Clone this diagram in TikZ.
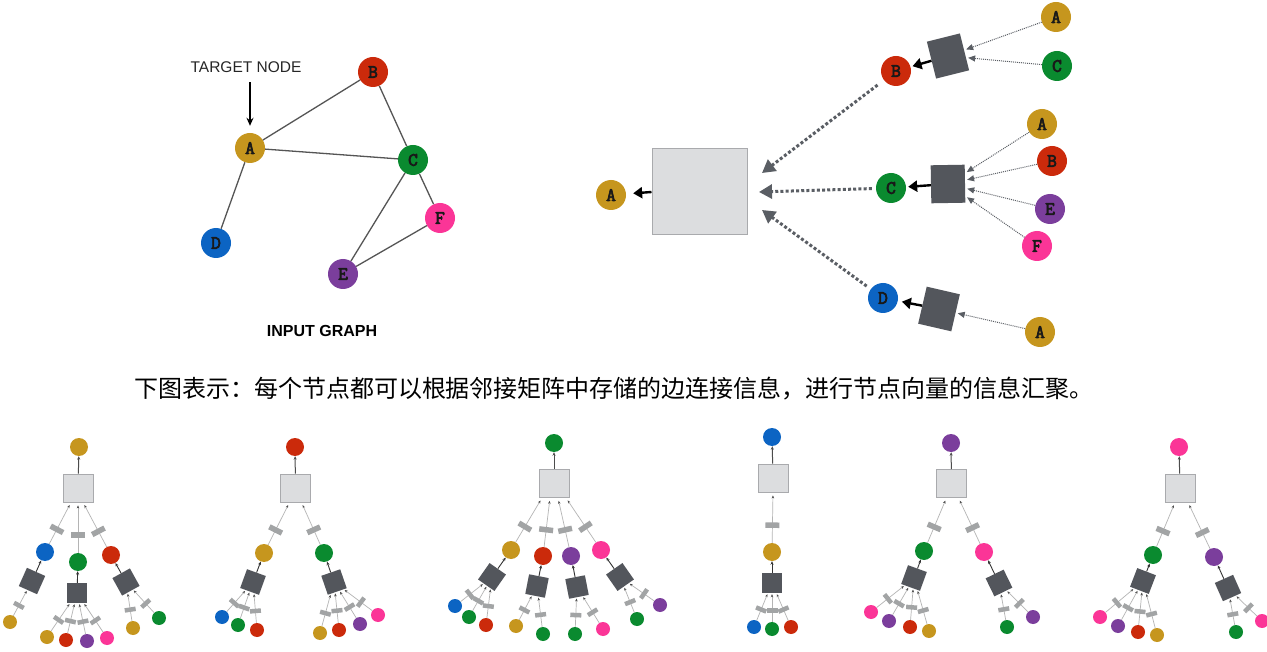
\documentclass[tikz,border=0pt]{standalone}
\usepackage{fontspec}
\setmainfont{Liberation Sans}
\newfontfamily\cjk{Noto Sans CJK SC}
\newfontfamily\cmono[RawFeature={embolden=3.5}]{Latin Modern Mono}
\usetikzlibrary{arrows.meta,calc}
\definecolor{cgold}{HTML}{C6961E}
\definecolor{cred}{HTML}{CB2A0B}
\definecolor{cgreen}{HTML}{0A8A2F}
\definecolor{cblue}{HTML}{0C64C3}
\definecolor{cpink}{HTML}{FB3597}
\definecolor{cpurple}{HTML}{7B3E9C}
\definecolor{lbfill}{HTML}{DCDDDF}
\definecolor{lbdraw}{HTML}{A9AAAD}
\definecolor{dsqc}{HTML}{53565C}
\definecolor{rectc}{HTML}{A2A4A5}
\definecolor{edgec}{HTML}{555555}
\definecolor{thinc}{HTML}{B4B4B4}
\definecolor{dotc}{HTML}{5A5E64}
\tikzset{
 lab/.style={circle,inner sep=0pt,minimum size=30pt,font=\cmono\fontsize{19}{19}\selectfont,text=black!90},
 gedge/.style={draw=edgec,line width=1.3pt},
 rc/.style={circle,inner sep=0pt,minimum size=18pt},
 cc/.style={circle,inner sep=0pt,minimum size=18pt},
 gc/.style={circle,inner sep=0pt,minimum size=14pt},
 lbox/.style={rectangle,fill=lbfill,draw=lbdraw,line width=0.8pt,minimum width=30pt,minimum height=28pt,inner sep=0pt},
 dsq/.style={rectangle,fill=dsqc,minimum size=20pt,inner sep=0pt},
 bsq/.style={rectangle,fill=dsqc,minimum width=34pt,minimum height=38pt,inner sep=0pt},
 erect/.style={rectangle,fill=rectc,sloped,minimum width=5.5pt,minimum height=14pt,inner sep=0pt},
 erects/.style={rectangle,fill=rectc,sloped,minimum width=4.5pt,minimum height=11pt,inner sep=0pt},
 thinedge/.style={draw=thinc,line width=0.7pt,-{Stealth[length=3pt,width=2.5pt,color=black!70]},shorten >=1pt},
 darkedge/.style={draw=black!80,line width=0.9pt,-{Stealth[length=3.5pt,width=3pt]}},
 rootedge/.style={draw=black!70,line width=1pt,-{Stealth[length=3.5pt,width=3pt]}},
 dotthin/.style={draw=dotc,line width=1pt,dash pattern=on 1pt off 1pt,-{Triangle[length=7pt,width=6pt]},shorten >=2pt},
 dotbig/.style={draw=dotc,line width=3pt,dash pattern=on 3pt off 2.2pt,-{Triangle[length=13pt,width=14pt]}},
 blk/.style={draw=black,line width=2.4pt,-{Triangle[length=9pt,width=11pt]}},
}
\newcommand\RT[4]{%
 \node[rc,fill=#3] (#1r) at (#2) {};
 \node[lbox] (#1b) at (#4) {};
 \draw[rootedge] (#1b) -- (#1r);}
\newcommand\CH[8]{%
 \node[cc,fill=#3] (#1) at (#2) {};
 \node[dsq,rotate=#8] (#6) at (#7) {};
 \draw[thinedge,shorten >=3pt] (#1) -- ($(#4.south)+(#5,0)$) node[erect,pos=0.35] (#1e) {};
 \draw[darkedge] (#6) -- (#1);}
\newcommand\GC[4]{%
 \node[gc,fill=#3] (#1) at (#2) {};
 \draw[thinedge] (#1) -- (#4) node[erects,pos=0.4] (#1e) {};}
\begin{document}
\begin{tikzpicture}[x=1pt,y=-1pt]
\fill[white] (0,0) rectangle (1267,652);
\useasboundingbox (0,0) rectangle (1267,652);
% ---------- input graph ----------
\node[lab,fill=cgold] (A) at (250,148) {A};
\node[lab,fill=cred] (B) at (373,72) {B};
\node[lab,fill=cgreen] (C) at (413,160) {C};
\node[lab,fill=cblue] (D) at (216,243) {D};
\node[lab,fill=cpurple] (E) at (343,274) {E};
\node[lab,fill=cpink] (F) at (440,218) {F};
\draw[gedge] (A)--(B) (A)--(C) (A)--(D) (B)--(C) (C)--(E) (C)--(F) (E)--(F);
\node[font=\fontsize{15.5}{16}\selectfont,text=black!85] (tl) at (246,67) {TARGET NODE};
\draw[line width=1.3pt,-{Stealth[length=8pt,width=7pt]},shorten <=6pt,shorten >=7pt] (A.north |- tl.south) -- (A.north);
\node[font=\bfseries\fontsize{16}{16}\selectfont] (ig) at (322,331) {INPUT GRAPH};
% ---------- aggregation ----------
\node[lab,fill=cgold] (RA) at (611,195) {A};
\node[draw=lbdraw,fill=lbfill,line width=1pt,minimum width=95pt,minimum height=86pt,inner sep=0pt] (BB) at (699.5,192) {};
\node[lab,fill=cred] (RB) at (896,71) {B};
\node[lab,fill=cgreen] (RC) at (891,188) {C};
\node[lab,fill=cblue] (RD) at (883,298) {D};
\node[bsq,rotate=14] (SB) at (948,56) {};
\node[bsq,rotate=1] (SC) at (948,184) {};
\node[bsq,rotate=-13] (SD) at (939,309) {};
\node[lab,fill=cgold] (NB1) at (1056,17) {A};
\node[lab,fill=cgreen] (NB2) at (1057,66) {C};
\node[lab,fill=cgold] (NC1) at (1042,124) {A};
\node[lab,fill=cred] (NC2) at (1052,161) {B};
\node[lab,fill=cpurple] (NC3) at (1050,209) {E};
\node[lab,fill=cpink] (NC4) at (1037,246) {F};
\node[lab,fill=cgold] (ND1) at (1040,332) {A};
\draw[dotthin] (NB1) -- (SB);
\draw[dotthin] (NB2) -- (SB);
\draw[dotthin] (NC1) -- (SC);
\draw[dotthin] (NC2) -- (SC);
\draw[dotthin] (NC3) -- (SC);
\draw[dotthin] (NC4) -- (SC);
\draw[dotthin] (ND1) -- (SD);
\draw[blk,shorten >=2pt] (SB) -- (RB);
\draw[blk,shorten >=2pt] (SC) -- (RC);
\draw[blk,shorten >=4pt] (SD) -- (RD);
\coordinate (tB) at (762,173);
\coordinate (tC) at (759,192);
\coordinate (tD) at (762,210);
\draw[dotbig,shorten <=8pt] (RB) -- (tB);
\draw[dotbig,shorten <=4pt] (RC) -- (tC);
\draw[dotbig,shorten <=5pt] (RD) -- (tD);
\draw[blk,shorten >=7pt] (BB.west) -- (RA);
% ---------- caption ----------
\node[font=\cjk\fontsize{24}{24}\selectfont] (cap) at (614,389) {下图表示：每个节点都可以根据邻接矩阵中存储的边连接信息，进行节点向量的信息汇聚。};
% ---------- tree 1 ----------
\RT{ta}{79,447}{cgold}{78,488}
\CH{ta1}{45,552}{cblue}{tab}{-7}{ta1s}{32,581}{-24}
\CH{ta2}{78,562}{cgreen}{tab}{0}{ta2s}{77,593}{0}
\CH{ta3}{111,555}{cred}{tab}{5}{ta3s}{126,582}{29}
\GC{ta11}{10,622}{cgold}{ta1s}
\GC{ta21}{47,637}{cgold}{ta2s}
\GC{ta22}{66,640}{cred}{ta2s}
\GC{ta23}{87,641}{cpurple}{ta2s}
\GC{ta24}{107,638}{cpink}{ta2s}
\GC{ta31}{133,628}{cgold}{ta3s}
\GC{ta32}{159,618}{cgreen}{ta3s}
% ---------- tree 2 ----------
\RT{tb}{295,447}{cred}{295.5,488}
\CH{tb1}{264,553}{cgold}{tbb}{-6}{tb1s}{253,582}{-20}
\CH{tb2}{324,553}{cgreen}{tbb}{6}{tb2s}{334,582}{19}
\GC{tb11}{222,617}{cblue}{tb1s}
\GC{tb12}{238,625}{cgreen}{tb1s}
\GC{tb13}{257,630}{cred}{tb1s}
\GC{tb21}{320,633}{cgold}{tb2s}
\GC{tb22}{339,630}{cred}{tb2s}
\GC{tb23}{360,624}{cpurple}{tb2s}
\GC{tb24}{378,615}{cpink}{tb2s}
% ---------- tree 3 ----------
\RT{tc}{554,443}{cgreen}{554,483.5}
\CH{tc1}{511,550}{cgold}{tcb}{-12}{tc1s}{492,577}{-35}
\CH{tc2}{543,556}{cred}{tcb}{-4}{tc2s}{537,586}{-11}
\CH{tc3}{571,556}{cpurple}{tcb}{4}{tc3s}{577,587}{11}
\CH{tc4}{601,550}{cpink}{tcb}{12}{tc4s}{620,577}{35}
\GC{tc11}{455,606}{cblue}{tc1s}
\GC{tc12}{469,617}{cgreen}{tc1s}
\GC{tc13}{486,625}{cred}{tc1s}
\GC{tc21}{516,626}{cgold}{tc2s}
\GC{tc22}{543,634}{cgreen}{tc2s}
\GC{tc31}{575,634}{cgreen}{tc3s}
\GC{tc32}{603,629}{cpink}{tc3s}
\GC{tc41}{637,619}{cgreen}{tc4s}
\GC{tc42}{660,605}{cpurple}{tc4s}
% ---------- tree 4 ----------
\RT{td}{772,437}{cblue}{773,478}
\CH{td1}{772,552}{cgold}{tdb}{0}{td1s}{772,583}{0}
\GC{td11}{754,627}{cblue}{td1s}
\GC{td12}{772,629}{cgreen}{td1s}
\GC{td13}{791,627}{cred}{td1s}
% ---------- tree 5 ----------
\RT{te}{951,443}{cpurple}{951.5,483.5}
\CH{te1}{924,551}{cgreen}{teb}{-5}{te1s}{914,578}{-20}
\CH{te2}{984,552}{cpink}{teb}{7}{te2s}{999,583}{26}
\GC{te11}{871,612}{cpink}{te1s}
\GC{te12}{889,621}{cpurple}{te1s}
\GC{te13}{910,627}{cred}{te1s}
\GC{te14}{929,631}{cgold}{te1s}
\GC{te21}{1007,627}{cgreen}{te2s}
\GC{te22}{1033,617}{cpurple}{te2s}
% ---------- tree 6 ----------
\RT{tf}{1179,447}{cpink}{1180,488}
\CH{tf1}{1153,555}{cgreen}{tfb}{-5}{tf1s}{1143,581}{-21}
\CH{tf2}{1214,557}{cpurple}{tfb}{8}{tf2s}{1228,588}{24}
\GC{tf11}{1100,617}{cpink}{tf1s}
\GC{tf12}{1118,626}{cpurple}{tf1s}
\GC{tf13}{1138,632}{cred}{tf1s}
\GC{tf14}{1157,635}{cgold}{tf1s}
\GC{tf21}{1236,632}{cgreen}{tf2s}
\GC{tf22}{1262,621}{cpink}{tf2s}
\end{tikzpicture}
\end{document}
